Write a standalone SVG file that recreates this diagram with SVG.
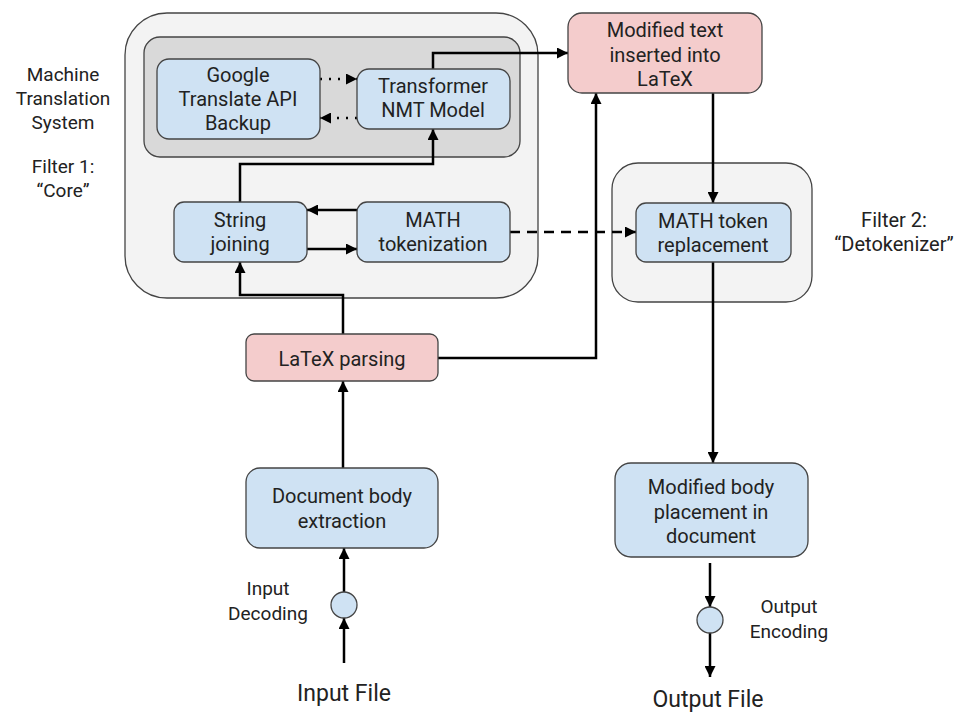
<svg xmlns="http://www.w3.org/2000/svg" width="959" height="715" viewBox="0 0 959 715">
<style>
text{font-family:Roboto,"Liberation Sans",sans-serif;fill:#222;text-anchor:middle}
.t{font-size:20px}
.l{font-size:19px}
.f{font-size:23px}
.blue{fill:#cfe2f3;stroke:#444;stroke-width:1.3}
.pink{fill:#f4cccc;stroke:#444;stroke-width:1.3}
.c{fill:none;stroke:#000;stroke-width:2.5}
</style>
<defs>
<marker id="ah" viewBox="0 0 10 10" refX="10" refY="5" markerWidth="4.4" markerHeight="4.4" markerUnits="strokeWidth" orient="auto">
<path d="M0,0 L10,5 L0,10 z" fill="#000"/>
</marker>
</defs>
<g id="filter1-container">
<rect x="125" y="13" width="413" height="285" rx="42" fill="#f3f3f3" stroke="#444" stroke-width="1.3"/>
<rect x="144" y="37" width="376" height="120" rx="16" fill="#d9d9d9" stroke="#444" stroke-width="1.3"/>
</g>
<g id="filter2-container">
<rect x="612" y="163" width="200" height="139" rx="26" fill="#f3f3f3" stroke="#444" stroke-width="1.3"/>
</g>
<g id="labels">
<text class="l" x="63" y="81">Machine</text>
<text class="l" x="63" y="105">Translation</text>
<text class="l" x="63" y="129">System</text>
<text class="l" x="63" y="173">Filter 1:</text>
<text class="l" x="63" y="197">“Core”</text>
<text class="l" x="894" y="227" style="font-size:20px">Filter 2:</text>
<text class="l" x="894" y="251" style="font-size:20px">“Detokenizer”</text>
<text class="l" x="268" y="595">Input</text>
<text class="l" x="268" y="620">Decoding</text>
<text class="l" x="789" y="613">Output</text>
<text class="l" x="789" y="638">Encoding</text>
<text class="f" x="344" y="701">Input File</text>
<text class="f" x="708" y="707">Output File</text>
</g>
<g id="connectors">
<path class="c" d="M320,79 H357" stroke-dasharray="2,7" marker-end="url(#ah)"/>
<path class="c" d="M357,118 H320" stroke-dasharray="2,7" marker-end="url(#ah)"/>
<path class="c" d="M240,202 V164 H433 V129" marker-end="url(#ah)"/>
<path class="c" d="M433,69 V53 H568" marker-end="url(#ah)"/>
<path class="c" d="M357,210 H307" marker-end="url(#ah)"/>
<path class="c" d="M307,249 H357" marker-end="url(#ah)"/>
<path class="c" d="M343,334 V295 H240 V262" marker-end="url(#ah)"/>
<path class="c" d="M510,232 H636" stroke-dasharray="10,7" marker-end="url(#ah)"/>
<path class="c" d="M438,358 H596 V93" marker-end="url(#ah)"/>
<path class="c" d="M713,93 V203" marker-end="url(#ah)"/>
<path class="c" d="M713,262 V463" marker-end="url(#ah)"/>
<path class="c" d="M343,468 V381" marker-end="url(#ah)"/>
<path class="c" d="M344,592 V548" marker-end="url(#ah)"/>
<path class="c" d="M344,663 V618" marker-end="url(#ah)"/>
<path class="c" d="M710,563 V607" marker-end="url(#ah)"/>
<path class="c" d="M710,633 V677" marker-end="url(#ah)"/>
</g>
<g id="google">
<rect class="blue" x="157" y="59" width="163" height="80" rx="12"/>
<text class="t" x="238" y="82">Google</text>
<text class="t" x="238" y="106">Translate API</text>
<text class="t" x="238" y="130">Backup</text>
</g>
<g id="transformer">
<rect class="blue" x="357" y="69" width="153" height="60" rx="12"/>
<text class="t" x="433" y="93">Transformer</text>
<text class="t" x="433" y="117">NMT Model</text>
</g>
<g id="string-joining">
<rect class="blue" x="174" y="202" width="133" height="60" rx="10"/>
<text class="t" x="240" y="227">String</text>
<text class="t" x="240" y="251">joining</text>
</g>
<g id="math-tokenization">
<rect class="blue" x="357" y="202" width="153" height="60" rx="10"/>
<text class="t" x="433" y="227">MATH</text>
<text class="t" x="433" y="251">tokenization</text>
</g>
<g id="modified-text">
<rect class="pink" x="568" y="13" width="194" height="80" rx="14"/>
<text class="t" x="665" y="37">Modified text</text>
<text class="t" x="665" y="62">inserted into</text>
<text class="t" x="665" y="86">LaTeX</text>
</g>
<g id="math-replacement">
<rect class="blue" x="636" y="203" width="155" height="59" rx="10"/>
<text class="t" x="713" y="228">MATH token</text>
<text class="t" x="713" y="252">replacement</text>
</g>
<g id="latex-parsing">
<rect class="pink" x="246" y="334" width="192" height="47" rx="8"/>
<text class="t" x="342" y="366">LaTeX parsing</text>
</g>
<g id="doc-extraction">
<rect class="blue" x="246" y="468" width="192" height="80" rx="14"/>
<text class="t" x="342" y="503">Document body</text>
<text class="t" x="342" y="528">extraction</text>
</g>
<g id="modified-body">
<rect class="blue" x="615" y="463" width="193" height="94" rx="16"/>
<text class="t" x="711" y="494">Modified body</text>
<text class="t" x="711" y="519">placement in</text>
<text class="t" x="711" y="543">document</text>
</g>
<g id="input-decoding">
<circle cx="344" cy="605" r="13" class="blue"/>
</g>
<g id="output-encoding">
<circle cx="710" cy="620" r="13" class="blue"/>
</g>
</svg>
